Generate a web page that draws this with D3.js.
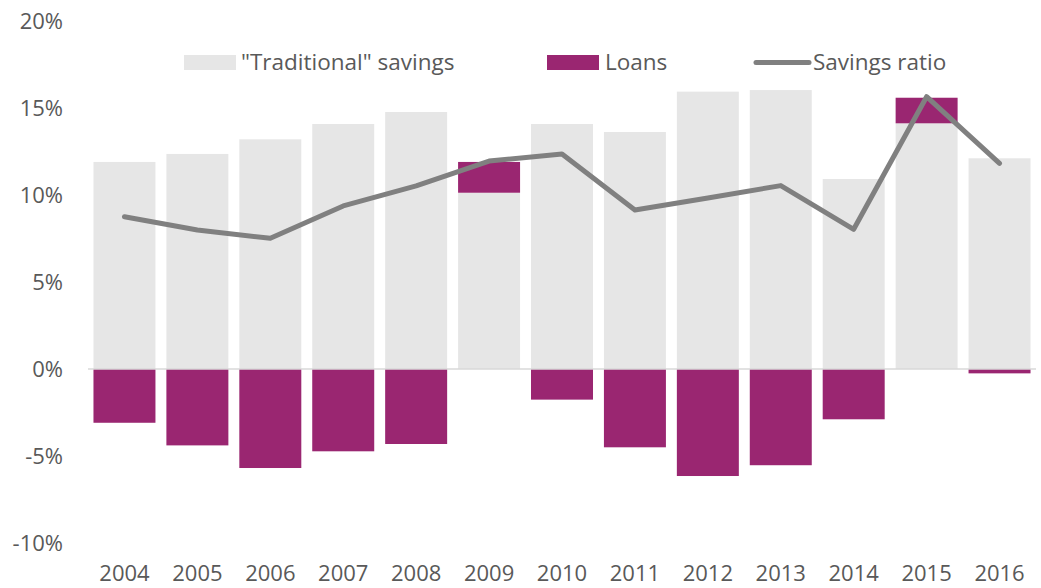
<!DOCTYPE html>
<html>
<head>
<meta charset="utf-8">
<script src="https://cdn.jsdelivr.net/npm/d3@7"></script>
<style>
  html, body { margin: 0; padding: 0; background: #fff; }
  svg { display: block; font-family: "Open Sans", "Noto Sans", sans-serif; }
</style>
</head>
<body>
<svg id="chart" width="1041" height="588"></svg>
<script>
// Household savings decomposition, % of disposable income
const years = ["2004","2005","2006","2007","2008","2009","2010","2011","2012","2013","2014","2015","2016"];
const traditional = [11.9, 12.36, 13.2, 14.08, 14.77, 10.13, 14.08, 13.62, 15.94, 16.03, 10.92, 14.12, 12.11];
const loans = [-3.09, -4.39, -5.69, -4.73, -4.31, 1.77, -1.76, -4.5, -6.15, -5.53, -2.89, 1.47, -0.25];
const savingsRatio = [8.75, 7.99, 7.51, 9.37, 10.52, 11.95, 12.36, 9.14, 9.83, 10.54, 8.03, 15.65, 11.82];
const yTicks = [-10, -5, 0, 5, 10, 15, 20];
const legendLabels = ["\"Traditional\" savings", "Loans", "Savings ratio"];

const colors = { traditional: "#e6e6e6", loans: "#9a2671", line: "#808080", text: "#595959", axis: "#d9d9d9" };
const fontFamily = "\"Open Sans\", \"Noto Sans\", sans-serif";

const svg = d3.select("#chart");

const x = d3.scaleBand().domain(years).range([88, 1036]).paddingInner(0.15).paddingOuter(0.075);
const y = d3.scaleLinear().domain([-10, 20]).range([543, 21]);

// Traditional savings bars (from zero upward)
svg.append("g").selectAll("rect")
  .data(years.map((yr, i) => ({ yr, v: traditional[i] })))
  .join("rect")
  .attr("x", d => x(d.yr))
  .attr("width", x.bandwidth())
  .attr("y", d => y(Math.max(0, d.v)))
  .attr("height", d => Math.abs(y(d.v) - y(0)))
  .attr("fill", colors.traditional);

// Loans: stacked above traditional savings when positive, below zero when negative
svg.append("g").selectAll("rect")
  .data(years.map((yr, i) => {
    const base = loans[i] >= 0 ? traditional[i] : 0;
    return { yr, y0: base, y1: base + loans[i] };
  }))
  .join("rect")
  .attr("x", d => x(d.yr))
  .attr("width", x.bandwidth())
  .attr("y", d => y(Math.max(d.y0, d.y1)))
  .attr("height", d => Math.abs(y(d.y1) - y(d.y0)))
  .attr("fill", colors.loans);

// Zero baseline
svg.append("line")
  .attr("x1", 88).attr("x2", 1036)
  .attr("y1", y(0)).attr("y2", y(0))
  .attr("stroke", colors.axis).attr("stroke-width", 1.5);

// Savings ratio line
const line = d3.line()
  .x((d, i) => x(years[i]) + x.bandwidth() / 2)
  .y(d => y(d));
svg.append("path")
  .datum(savingsRatio)
  .attr("d", line)
  .attr("fill", "none")
  .attr("stroke", colors.line)
  .attr("stroke-width", 5)
  .attr("stroke-linejoin", "round")
  .attr("stroke-linecap", "round");

// Y axis labels
const yAxis = d3.axisLeft(y).tickValues(yTicks).tickFormat(d => d + "%").tickSize(0).tickPadding(0);
const gy = svg.append("g").attr("transform", "translate(63,0)").call(yAxis);
gy.select(".domain").remove();
gy.selectAll("text").attr("fill", colors.text).style("font-size", "22px").style("font-family", fontFamily);

// X axis labels
const xAxis = d3.axisBottom(x).tickSize(0).tickPadding(0);
const gx = svg.append("g").attr("transform", "translate(0,565)").call(xAxis);
gx.select(".domain").remove();
gx.selectAll("text").attr("fill", colors.text).style("font-size", "22px").style("font-family", fontFamily);

// Legend
const legend = svg.append("g").style("font-size", "22.5px").attr("fill", colors.text);
legend.append("rect").attr("x", 184).attr("y", 55).attr("width", 52).attr("height", 15).attr("fill", colors.traditional);
legend.append("text").attr("x", 241).attr("y", 70).text(legendLabels[0]);
legend.append("rect").attr("x", 547).attr("y", 55).attr("width", 52).attr("height", 15).attr("fill", colors.loans);
legend.append("text").attr("x", 605).attr("y", 70).text(legendLabels[1]);
legend.append("line").attr("x1", 756).attr("x2", 809).attr("y1", 62.5).attr("y2", 62.5)
  .attr("stroke", colors.line).attr("stroke-width", 5).attr("stroke-linecap", "round");
legend.append("text").attr("x", 813).attr("y", 70).text(legendLabels[2]);
</script>
</body>
</html>
